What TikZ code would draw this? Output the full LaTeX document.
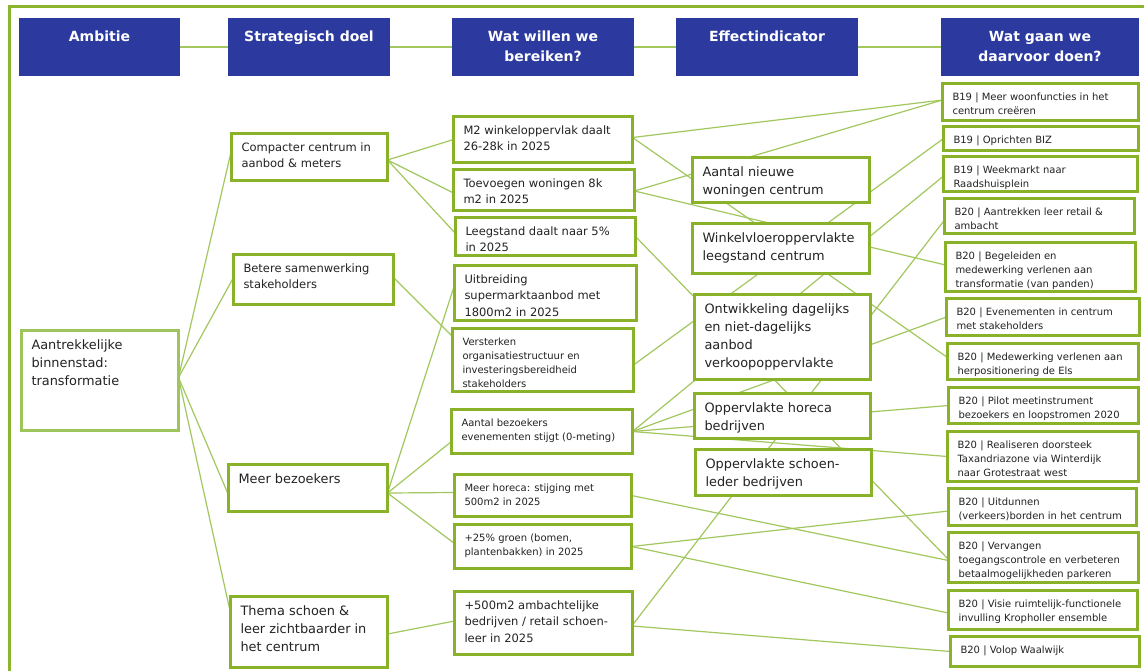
\documentclass[tikz,border=0pt]{standalone}
\usepackage{fontspec}
\setmainfont{DejaVu Sans}
\usetikzlibrary{calc,backgrounds}
\definecolor{hdrblue}{RGB}{44,58,160}
\definecolor{boxgreen}{RGB}{137,178,41}
\definecolor{linegreen}{RGB}{163,199,95}
\definecolor{ambgreen}{RGB}{157,197,92}
\definecolor{framegreen}{RGB}{140,180,45}
\definecolor{txtgray}{RGB}{35,35,35}

\newcommand\mkbox[8]{%
  \node[#1, anchor=north west, minimum width={#5pt-#3pt-3pt}, minimum height={#6pt-#4pt-3pt}] (#2) at ({#3+1.5},{#4+1.5}) {};
  \node[#7, anchor=north west] (#2t) at ($(#2.north west)+(10,8.5)$) {\rule{0pt}{0.8em}#8};
}
\newcommand\mkhdr[4]{%
  \node[hdrbox, anchor=north west, minimum width={#3pt-#2pt}, minimum height=58pt] (#1) at (#2,18) {};
  \node[hdrtxt, anchor=north] (#1t) at ($(#1.north)+(0,12.3)$) {\rule{0pt}{0.8em}#4};
}

\begin{document}
\begin{tikzpicture}[x=1pt, y=-1pt,
  every node/.style={inner sep=0pt, outer sep=0pt},
  hdrbox/.style={fill=hdrblue, draw=none},
  hdrtxt/.style={text=white, align=center, font=\bfseries\fontsize{14}{19.5}\selectfont},
  bx/.style={draw=boxgreen, line width=3pt, fill=white},
  ambx/.style={draw=ambgreen, line width=2.5pt, fill=white},
  tA/.style={text=txtgray, align=left, font=\fontsize{12.9}{18}\selectfont},
  tB/.style={text=txtgray, align=left, font=\fontsize{11.5}{16.5}\selectfont},
  tC/.style={text=txtgray, align=left, font=\fontsize{10}{14}\selectfont},
  tD/.style={text=txtgray, align=left, font=\fontsize{10}{14}\selectfont},
  conn/.style={draw=linegreen, line width=1.2pt}
]
\useasboundingbox (0,0) rectangle (1144,670);

% headers
\mkhdr{h1}{19}{180}{Ambitie}
\mkhdr{h2}{228}{390}{Strategisch doel}
\mkhdr{h3}{452}{634}{Wat willen we\\bereiken?}
\mkhdr{h4}{676}{858}{Effectindicator}
\mkhdr{h5}{941}{1139}{Wat gaan we\\daarvoor doen?}

% column 1
\mkbox{ambx}{amb}{20}{329}{180}{432}{tA}{Aantrekkelijke\\binnenstad:\\transformatie}

% column 2
\mkbox{bx}{sd1}{230}{132}{389}{182}{tB}{Compacter centrum in\\aanbod \& meters}
\mkbox{bx}{sd2}{232}{253}{395}{306}{tB}{Betere samenwerking\\stakeholders}
\mkbox{bx}{sd3}{227}{463}{389}{513}{tA}{Meer bezoekers}
\mkbox{bx}{sd4}{229}{595}{389}{669}{tA}{Thema schoen \&\\leer zichtbaarder in\\het centrum}

% column 3
\mkbox{bx}{w1}{452}{115}{634}{164}{tB}{M2 winkeloppervlak daalt\\26-28k in 2025}
\mkbox{bx}{w2}{452}{168}{636}{212}{tB}{Toevoegen woningen 8k\\m2 in 2025}
\mkbox{bx}{w3}{454}{216}{637}{257}{tB}{Leegstand daalt naar 5\%\\in 2025}
\mkbox{bx}{w4}{453}{264}{638}{322}{tB}{Uitbreiding\\supermarktaanbod met\\1800m2 in 2025}
\mkbox{bx}{w5}{451}{327}{635}{393}{tC}{Versterken\\organisatiestructuur en\\investeringsbereidheid\\stakeholders}
\mkbox{bx}{w6}{450}{408}{634}{455}{tC}{Aantal bezoekers\\evenementen stijgt (0-meting)}
\mkbox{bx}{w7}{453}{473}{633}{518}{tC}{Meer horeca: stijging met\\500m2 in 2025}
\mkbox{bx}{w8}{453}{523}{633}{570}{tC}{+25\% groen (bomen,\\plantenbakken) in 2025}
\mkbox{bx}{w9}{453}{590}{634}{656}{tB}{+500m2 ambachtelijke\\bedrijven / retail schoen-\\leer in 2025}

% column 4
\mkbox{bx}{e1}{691}{156}{871}{204}{tA}{Aantal nieuwe\\woningen centrum}
\mkbox{bx}{e2}{691}{222}{871}{275}{tA}{Winkelvloeroppervlakte\\leegstand centrum}
\mkbox{bx}{e3}{693}{293}{872}{381}{tA}{Ontwikkeling dagelijks\\en niet-dagelijks\\aanbod\\verkoopoppervlakte}
\mkbox{bx}{e4}{693}{392}{872}{440}{tA}{Oppervlakte horeca\\bedrijven}
\mkbox{bx}{e5}{694}{448}{873}{497}{tA}{Oppervlakte schoen-\\leder bedrijven}

% column 5
\mkbox{bx}{a1}{941}{82}{1140}{122}{tD}{B19 | Meer woonfuncties in het\\centrum creëren}
\mkbox{bx}{a2}{942}{125}{1140}{152}{tD}{B19 | Oprichten BIZ}
\mkbox{bx}{a3}{942}{155}{1139}{193}{tD}{B19 | Weekmarkt naar\\Raadshuisplein}
\mkbox{bx}{a4}{943}{197}{1136}{235}{tD}{B20 | Aantrekken leer retail \&\\ambacht}
\mkbox{bx}{a5}{944}{241}{1137}{293}{tD}{B20 | Begeleiden en\\medewerking verlenen aan\\transformatie (van panden)}
\mkbox{bx}{a6}{945}{297}{1141}{337}{tD}{B20 | Evenementen in centrum\\met stakeholders}
\mkbox{bx}{a7}{946}{342}{1140}{381}{tD}{B20 | Medewerking verlenen aan\\herpositionering de Els}
\mkbox{bx}{a8}{947}{386}{1140}{425}{tD}{B20 | Pilot meetinstrument\\bezoekers en loopstromen 2020}
\mkbox{bx}{a9}{946}{430}{1140}{483}{tD}{B20 | Realiseren doorsteek\\Taxandriazone via Winterdijk\\naar Grotestraat west}
\mkbox{bx}{a10}{947}{487}{1138}{527}{tD}{B20 | Uitdunnen\\(verkeers)borden in het centrum}
\mkbox{bx}{a11}{947}{531}{1140}{584}{tD}{B20 | Vervangen\\toegangscontrole en verbeteren\\betaalmogelijkheden parkeren}
\mkbox{bx}{a12}{947}{589}{1139}{631}{tD}{B20 | Visie ruimtelijk-functionele\\invulling Kropholler ensemble}
\mkbox{bx}{a13}{949}{635}{1141}{668}{tD}{B20 | Volop Waalwijk}

\begin{scope}[on background layer]
  \fill[white] (0,0) rectangle (1144,670);
  \draw[framegreen, line width=2.5pt] (9.5,700) -- (9.5,6.5) -- (1170,6.5);
  % header connectors
  \draw[conn] (h1.east) -- (h2.west);
  \draw[conn] (h2.east) -- (h3.west);
  \draw[conn] (h3.east) -- (h4.west);
  \draw[conn] (h4.east) -- (h5.west);
  % ambitie -> strategisch doel
  \coordinate (ambR) at ($(amb.east)+(0,-3)$);
  \draw[conn] (ambR) -- ($(sd1.west)+(0,-7)$);
  \draw[conn] (ambR) -- ($(sd2.west)+(0,-2)$);
  \draw[conn] (ambR) -- ($(sd3.west)+(0,7)$);
  \draw[conn] (ambR) -- ($(sd4.west)+(0,-19)$);
  % strategisch doel -> wat willen we bereiken
  \coordinate (sd1R) at ($(sd1.east)+(0,3)$);
  \draw[conn] (sd1R) -- (w1.west);
  \draw[conn] (sd1R) -- ($(w2.west)+(0,3)$);
  \draw[conn] (sd1R) -- ($(w3.west)+(0,-3)$);
  \draw[conn] ($(sd2.east)+(0,-2)$) -- ($(w5.north west)+(0,8)$);
  \coordinate (sd3R) at ($(sd3.east)+(0,5)$);
  \draw[conn] (sd3R) -- ($(w4.west)+(0,-8)$);
  \draw[conn] (sd3R) -- ($(w6.west)+(0,10)$);
  \draw[conn] (sd3R) -- ($(w7.west)+(0,-3)$);
  \draw[conn] (sd3R) -- ($(w8.west)+(0,-3)$);
  \draw[conn] ($(sd4.east)+(0,2)$) -- ($(w9.west)+(0,-2)$);
  % wat willen we bereiken -> wat gaan we doen
  \coordinate (w1R) at ($(w1.east)+(0,-2)$);
  \coordinate (w2R) at ($(w2.east)+(0,1)$);
  \coordinate (a1L) at ($(a1.west)+(0,-2)$);
  \draw[conn] (w1R) -- (a1L);
  \draw[conn] (w1R) -- ($(a7.west)+(0,-4)$);
  \draw[conn] (w2R) -- (a1L);
  \draw[conn] (w2R) -- ($(a5.west)+(0,-2)$);
  \draw[conn] (w3.east) -- ($(a11.west)+(0,2)$);
  \draw[conn] ($(w5.east)+(0,5)$) -- (a2.west);
  \draw[conn] (w6.east) -- ($(a3.west)+(0,2)$);
  \draw[conn] (w6.east) -- (a6.west);
  \draw[conn] (w6.east) -- (a8.west);
  \draw[conn] (w6.east) -- (a9.west);
  \draw[conn] (w7.east) -- ($(a11.west)+(0,3)$);
  \draw[conn] (w8.east) -- ($(a10.west)+(0,4)$);
  \draw[conn] (w8.east) -- ($(a12.west)+(0,3)$);
  \draw[conn] ($(w9.east)+(0,2)$) -- ($(a4.west)+(0,4)$);
  \draw[conn] ($(w9.east)+(0,3)$) -- (a13.west);
\end{scope}
\end{tikzpicture}
\end{document}
